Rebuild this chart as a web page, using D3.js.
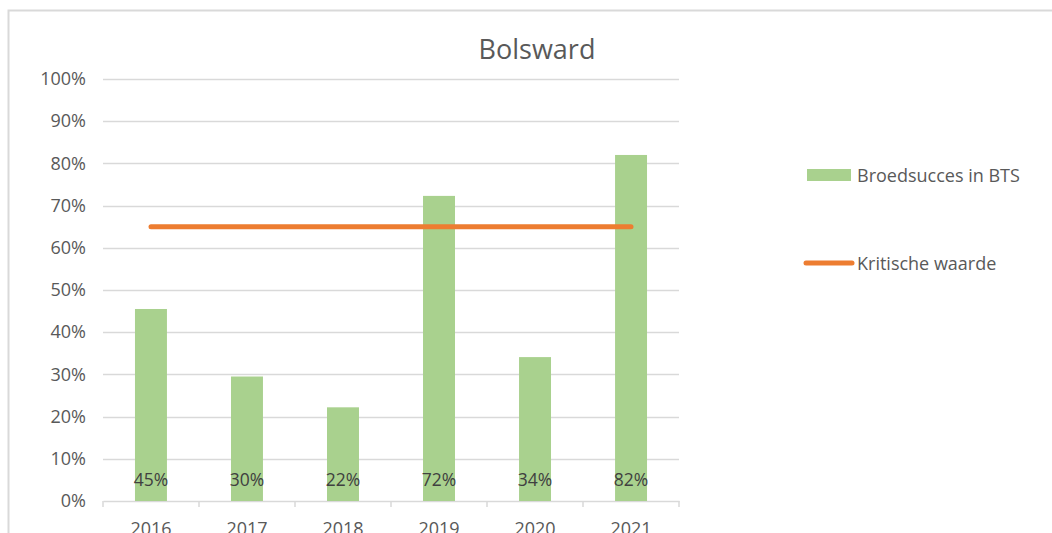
<!DOCTYPE html>
<html>
<head>
<meta charset="utf-8">
<script src="https://cdn.jsdelivr.net/npm/d3@7"></script>
<style>
body{margin:0;background:#fff;overflow:hidden}
text{font-family:"Open Sans","Segoe UI",sans-serif}
</style>
</head>
<body>
<div id="root"></div>
<script>
// data
var years=['2016','2017','2018','2019','2020','2021'];
var succes=[0.455,0.295,0.222,0.723,0.341,0.82];
var labels=['45%','30%','22%','72%','34%','82%'];
var kritisch=[0.65,0.65,0.65,0.65,0.65,0.65];
var yTicks=[0,0.1,0.2,0.3,0.4,0.5,0.6,0.7,0.8,0.9,1];

var W=1052,H=533;
var margin={t:79,l:103};
var w=576,h=422;

var svg=d3.select('#root').append('svg').attr('width',W).attr('height',H);

// chart frame
svg.append('rect').attr('x',8.5).attr('y',10.5).attr('width',1100).attr('height',600)
	.attr('fill','none').attr('stroke','#d9d9d9').attr('stroke-width',2);

svg.append('text').attr('x',537).attr('y',59).attr('text-anchor','middle')
	.attr('font-size',27).attr('fill','#595959').text('Bolsward');

var g=svg.append('g').attr('transform','translate('+margin.l+','+margin.t+')');

var xScale=d3.scaleBand().domain(years).range([0,w]).paddingInner(0.667).paddingOuter(0.333);
var xBand=d3.scaleBand().domain(years).range([0,w]);
var yScale=d3.scaleLinear().domain([0,1]).range([h,0]);

// gridlines
g.selectAll('.grid').data(yTicks.slice(1)).enter().append('line')
	.attr('x1',0).attr('x2',w)
	.attr('y1',function(d){return Math.round(yScale(d))+0.5})
	.attr('y2',function(d){return Math.round(yScale(d))+0.5})
	.attr('stroke','#d9d9d9').attr('stroke-width',1.3);

// y axis labels
var yAxis=d3.axisLeft(yScale).tickValues(yTicks).tickFormat(d3.format('.0%')).tickSize(0).tickPadding(17);
var ya=g.append('g').call(yAxis);
ya.select('.domain').remove();
ya.selectAll('text').attr('font-size',18).attr('fill','#595959').attr('font-family','"Open Sans",sans-serif');

// x axis
var xAxis=d3.axisBottom(xBand).tickSize(0).tickPadding(21);
var xa=g.append('g').attr('transform','translate(0,'+h+')').call(xAxis);
xa.select('.domain').attr('stroke','#d9d9d9').attr('stroke-width',1.5);
xa.selectAll('text').attr('font-size',18).attr('fill','#595959').attr('font-family','"Open Sans",sans-serif');
g.selectAll('.xtick').data(d3.range(years.length+1)).enter().append('line')
	.attr('x1',function(d){return d*xBand.step()}).attr('x2',function(d){return d*xBand.step()})
	.attr('y1',h).attr('y2',h+6).attr('stroke','#d9d9d9').attr('stroke-width',1.5);

// bars
g.selectAll('.bar').data(succes).enter().append('rect')
	.attr('x',function(d,i){return xScale(years[i])})
	.attr('width',xScale.bandwidth())
	.attr('y',function(d){return yScale(d)})
	.attr('height',function(d){return h-yScale(d)})
	.attr('fill','#a9d18e');

// data labels
g.selectAll('.lbl').data(labels).enter().append('text')
	.attr('x',function(d,i){return xBand(years[i])+xBand.bandwidth()/2})
	.attr('y',h-15)
	.attr('text-anchor','middle').attr('font-size',17.5).attr('fill','#404040')
	.text(function(d){return d});

// kritische waarde line
var line=d3.line().x(function(d,i){return xBand(years[i])+xBand.bandwidth()/2}).y(function(d){return yScale(d)});
g.append('path').datum(kritisch).attr('d',line).attr('fill','none')
	.attr('stroke','#ed7d31').attr('stroke-width',5).attr('stroke-linecap','round');

// legend
var lg=svg.append('g');
lg.append('rect').attr('x',807).attr('y',169).attr('width',44).attr('height',12).attr('fill','#a9d18e');
lg.append('text').attr('x',857).attr('y',182).attr('font-size',18).attr('fill','#595959').text('Broedsucces in BTS');
lg.append('line').attr('x1',806).attr('x2',852).attr('y1',263).attr('y2',263)
	.attr('stroke','#ed7d31').attr('stroke-width',5).attr('stroke-linecap','round');
lg.append('text').attr('x',857).attr('y',270).attr('font-size',18).attr('fill','#595959').text('Kritische waarde');
</script>
</body>
</html>
